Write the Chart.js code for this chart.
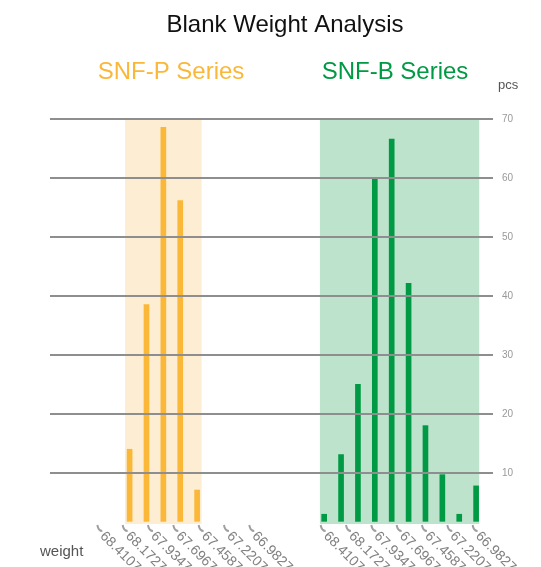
<!DOCTYPE html>
<html>
<head>
<meta charset="utf-8">
<script src="https://cdn.jsdelivr.net/npm/chart.js@4.4.1/dist/chart.umd.min.js"></script>
<style>
  body { margin: 0; background: #fff; }
  #wrap { width: 541px; height: 567px; position: relative; }
</style>
</head>
<body>
<div id="wrap"><canvas id="weightChart"></canvas></div>
<script>
// bin centres (weight) shared by both series
const binCenters = [68.4107, 68.2520, 68.0933, 67.9347, 67.7760, 67.6173, 67.4587, 67.3000, 67.1413, 66.9827];
// counts (pcs) per bin
const snfPCounts = [null, null, 14.1, 38.6, 68.6, 56.2, 7.2, null, null, null];
const snfBCounts = [3.1, 13.2, 25.1, 59.8, 66.6, 42.2, 18.1, 9.8, 3.1, 7.9];
// weight ranges of the shaded spec bands
const snfPBand = [68.16, 67.44];
const snfBBand = [68.427, 66.93];
// axis ticks
const weightTicks = [68.4107, 68.1727, 67.9347, 67.6967, 67.4587, 67.2207, 66.9827];
const weightLabels = ['68.4107', '68.1727', '67.9347', '67.6967', '67.4587', '67.2207', '66.9827'];
const pcsTicks = [10, 20, 30, 40, 50, 60, 70];

const orange = '#fbb737';
const green = '#009a44';
const font = '"Liberation Sans", Arial, sans-serif';

function toPoints(counts) {
  return binCenters.map((w, i) => ({ x: w, y: counts[i] }));
}

// shaded bands behind the bars
const bandPlugin = {
  id: 'bands',
  beforeDatasetsDraw(chart) {
    const ctx = chart.ctx;
    const area = chart.chartArea;
    const bands = [['xP', snfPBand, '#fdedd3'], ['xB', snfBBand, '#bde3cc']];
    ctx.save();
    bands.forEach(([id, range, color]) => {
      const sc = chart.scales[id];
      const x1 = sc.getPixelForValue(range[0]);
      const x2 = sc.getPixelForValue(range[1]);
      ctx.fillStyle = color;
      ctx.fillRect(x1, area.top, x2 - x1, area.bottom - area.top);
    });
    ctx.restore();
  }
};

// texts: title, series names, units, and the weight ticks with slanted labels
const textPlugin = {
  id: 'texts',
  afterDraw(chart) {
    const ctx = chart.ctx;
    const bottom = chart.chartArea.bottom;
    ctx.save();
    ctx.textBaseline = 'alphabetic';
    ctx.textAlign = 'center';
    ctx.font = '24px ' + font;
    ctx.fillStyle = '#111';
    ctx.fillText('Blank Weight Analysis', 285, 32);
    ctx.fillStyle = orange;
    ctx.fillText('SNF-P Series', 171, 79);
    ctx.fillStyle = green;
    ctx.fillText('SNF-B Series', 395, 79);

    ctx.textAlign = 'left';
    ctx.fillStyle = '#555';
    ctx.font = '13px ' + font;
    ctx.fillText('pcs', 498, 89);
    ctx.font = '15px ' + font;
    ctx.fillText('weight', 40, 556);

    ctx.font = '14px ' + font;
    ctx.textBaseline = 'middle';
    ['xP', 'xB'].forEach(id => {
      const sc = chart.scales[id];
      weightTicks.forEach((v, i) => {
        const x = sc.getPixelForValue(v);
        // small hooked tick
        ctx.strokeStyle = '#a0a0a0';
        ctx.lineWidth = 2;
        ctx.beginPath();
        ctx.moveTo(x - 1, bottom + 1);
        ctx.quadraticCurveTo(x, bottom + 7, x + 4, bottom + 7);
        ctx.stroke();
        ctx.save();
        ctx.fillStyle = '#808080';
        ctx.translate(x + 4, bottom + 10);
        ctx.rotate(Math.PI / 4);
        ctx.fillText(weightLabels[i], 0, 0);
        ctx.restore();
      });
    });
    ctx.restore();
  }
};

new Chart(document.getElementById('weightChart'), {
  type: 'bar',
  data: {
    datasets: [
      {
        label: 'SNF-P Series',
        data: toPoints(snfPCounts),
        xAxisID: 'xP',
        backgroundColor: orange,
        barThickness: 5,
        base: 1.9
      },
      {
        label: 'SNF-B Series',
        data: toPoints(snfBCounts),
        xAxisID: 'xB',
        backgroundColor: green,
        barThickness: 5,
        base: 1.9
      }
    ]
  },
  options: {
    responsive: true,
    maintainAspectRatio: false,
    animation: false,
    layout: { padding: { top: 119, left: 50, right: 0, bottom: 43 } },
    plugins: {
      legend: { display: false },
      title: { display: false },
      tooltip: { enabled: false }
    },
    scales: {
      // one weight axis per panel, both hidden, drawn over the whole plot width
      xP: { type: 'linear', display: false, offset: false, reverse: true, min: 64.833, max: 68.865 },
      xB: { type: 'linear', display: false, offset: false, reverse: true, min: 66.932, max: 70.964 },
      y: {
        type: 'linear',
        position: 'right',
        min: 1.45,
        max: 70,
        border: { display: false },
        grid: { color: '#8e8e8e', lineWidth: 2, tickLength: 14, z: 1 },
        ticks: { color: '#999', font: { size: 10, family: font }, padding: 9 },
        afterBuildTicks(axis) { axis.ticks = pcsTicks.map(v => ({ value: v })); },
        afterFit(axis) { axis.width = 62; }
      }
    }
  },
  plugins: [bandPlugin, textPlugin]
});
</script>
</body>
</html>
